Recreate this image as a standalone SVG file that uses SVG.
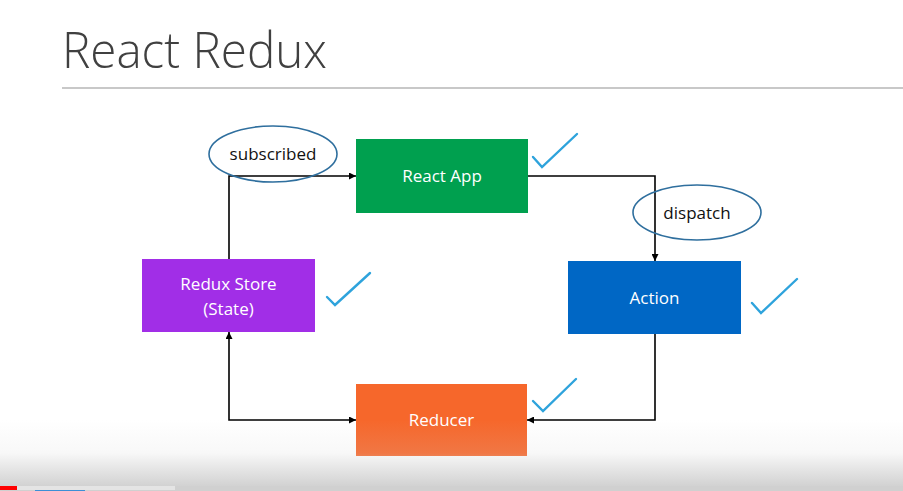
<svg xmlns="http://www.w3.org/2000/svg" width="903" height="491" viewBox="0 0 903 491">
  <defs>
    <marker id="arr" viewBox="0 0 10 10" refX="10" refY="5" markerWidth="7" markerHeight="7" markerUnits="userSpaceOnUse" orient="auto-start-reverse">
      <path d="M0,0 L10,5 L0,10 z" fill="#000"/>
    </marker>
    <linearGradient id="shade" x1="0" y1="0" x2="0" y2="1">
      <stop offset="0" stop-color="#d0d0d0" stop-opacity="0"/>
      <stop offset="0.5" stop-color="#d0d0d0" stop-opacity="0.15"/>
      <stop offset="1" stop-color="#d2d2d2" stop-opacity="1"/>
    </linearGradient>
    <style>
      .box-text { font-family: "Open Sans", "Liberation Sans", sans-serif; font-size: 17px; fill: #ffffff; text-anchor: middle; }
      .lbl { font-family: "Open Sans", "Liberation Sans", sans-serif; font-size: 17px; fill: #111111; text-anchor: middle; }
      .oval { fill: none; stroke: #2f6f9e; stroke-width: 1.6; }
      .conn { fill: none; stroke: #000; stroke-width: 1.6; }
      .check { fill: none; stroke: #2ea3dc; stroke-width: 2.4; stroke-linecap: round; stroke-linejoin: miter; }
    </style>
  </defs>
  <rect x="0" y="0" width="903" height="491" fill="#ffffff"/>

  <text x="62" y="68" font-family="'Open Sans', 'Liberation Sans', sans-serif" font-weight="300" font-size="49" fill="#404040" textLength="265" lengthAdjust="spacingAndGlyphs">React Redux</text>
  <rect x="62" y="87" width="841" height="2" fill="#c8c8c8"/>

  <g id="connectors">
    <path class="conn" d="M229,259 V176 H356" marker-end="url(#arr)"/>
    <path class="conn" d="M528,176 H655 V261" marker-end="url(#arr)"/>
    <path class="conn" d="M655,334 V420 H527" marker-end="url(#arr)"/>
    <path class="conn" d="M229,332 V420 H356" marker-start="url(#arr)" marker-end="url(#arr)"/>
  </g>

  <g id="label-subscribed">
    <ellipse class="oval" cx="273" cy="154" rx="64" ry="28"/>
    <text class="lbl" x="273" y="160">subscribed</text>
  </g>
  <g id="label-dispatch">
    <ellipse class="oval" cx="697" cy="212.5" rx="64" ry="27.5"/>
    <text class="lbl" x="697" y="218.5">dispatch</text>
  </g>

  <g id="react-app">
    <rect x="356" y="139" width="172" height="74" fill="#00a04f"/>
    <text class="box-text" x="442" y="182">React App</text>
    <polyline class="check" points="533,157 542,167 577,134"/>
  </g>
  <g id="redux-store">
    <rect x="142" y="259" width="173" height="73" fill="#a12ee7"/>
    <text class="box-text" x="228.5" y="290">Redux Store</text>
    <text class="box-text" x="228.5" y="315">(State)</text>
    <polyline class="check" points="327,297 335,305 370,273"/>
  </g>
  <g id="action">
    <rect x="568" y="261" width="173" height="73" fill="#0067c5"/>
    <text class="box-text" x="654.5" y="304">Action</text>
    <polyline class="check" points="752,303 761,313 797,279"/>
  </g>
  <g id="reducer">
    <rect x="356" y="384" width="171" height="72" fill="#f6672b"/>
    <text class="box-text" x="441.5" y="426">Reducer</text>
    <polyline class="check" points="533,401 543,411 576,379"/>
  </g>

  <rect x="0" y="420" width="903" height="66" fill="url(#shade)"/>
  <rect x="0" y="486" width="903" height="5" fill="#d0d0d0"/>
  <rect x="17" y="486" width="158" height="4" fill="#e4e4e4"/>
  <rect x="0" y="486" width="17" height="4" fill="#ff0000"/>
  <rect x="35" y="490" width="50" height="1" fill="#3d8fd6"/>
</svg>
